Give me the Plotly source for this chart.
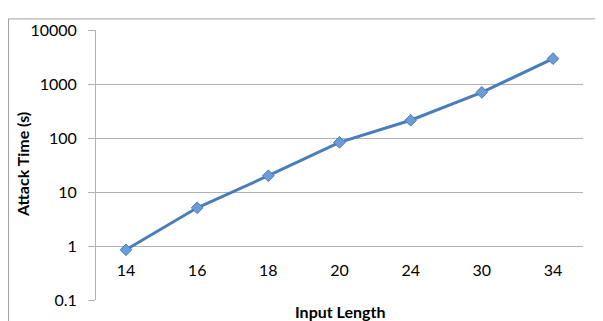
import plotly.graph_objects as go

input_length = ["14", "16", "18", "20", "24", "30", "34"]
attack_time = [0.85, 5.1, 20, 83, 213, 700, 2950]
y_tick_vals = [0.1, 1, 10, 100, 1000, 10000]
y_tick_text = ["0.1", "1", "10", "100", "1000", "10000"]

FONT = "Lato"
OFF = 8  # page body margin offset
W, H = 603 - OFF, 321 - OFF
L, R, T, B = 96 - OFF, 583 - OFF, 20 - OFF, 300 - OFF
pw, ph = R - L, B - T

def px(x):
    return (x - OFF - L) / pw

def py(y):
    return (B - (y - OFF)) / ph

fig = go.Figure()
fig.add_trace(go.Scatter(
    x=input_length, y=attack_time, mode="lines+markers",
    line=dict(color="#4a7ebb", width=3),
    marker=dict(symbol="diamond", size=9, color="#6b9bd8",
                line=dict(color="#4a7ebb", width=1)),
    showlegend=False,
))

fig.update_layout(
    width=W, height=H,
    margin=dict(l=L, r=W - R, t=T, b=H - B),
    paper_bgcolor="white", plot_bgcolor="white",
    font=dict(family=FONT, size=16, color="#000000"),
    xaxis=dict(
        type="category", anchor="free", position=0.2,
        showgrid=False, showline=False, zeroline=False,
        ticks="", ticklabelstandoff=13,
        tickfont=dict(family=FONT, size=16, color="#000000"),
    ),
    yaxis=dict(
        type="log", range=[-1, 4],
        tickvals=y_tick_vals, ticktext=y_tick_text,
        showgrid=True, gridcolor="#b3b3b3", gridwidth=1,
        showline=True, linecolor="#b3b3b3", linewidth=1,
        ticks="outside", ticklen=7, tickcolor="#b3b3b3",
        ticklabelstandoff=8,
        zeroline=False,
        tickfont=dict(family=FONT, size=16, color="#000000"),
    ),
    annotations=[
        dict(text="<b>Attack Time (s)</b>", xref="paper", yref="paper",
             x=px(22), y=py(160), textangle=-90, showarrow=False,
             xanchor="center", yanchor="middle",
             font=dict(family=FONT, size=16, color="#000000")),
        dict(text="<b>Input Length</b>", xref="paper", yref="paper",
             x=px(340), y=py(312), showarrow=False,
             xanchor="center", yanchor="middle",
             font=dict(family=FONT, size=16, color="#000000")),
    ],
    shapes=[
        dict(type="rect", xref="paper", yref="paper",
             x0=px(8.5), y0=py(340), x1=px(640), y1=py(8.5),
             line=dict(color="#a0a0a0", width=1), layer="below"),
    ],
)

fig.write_html("out.html")
